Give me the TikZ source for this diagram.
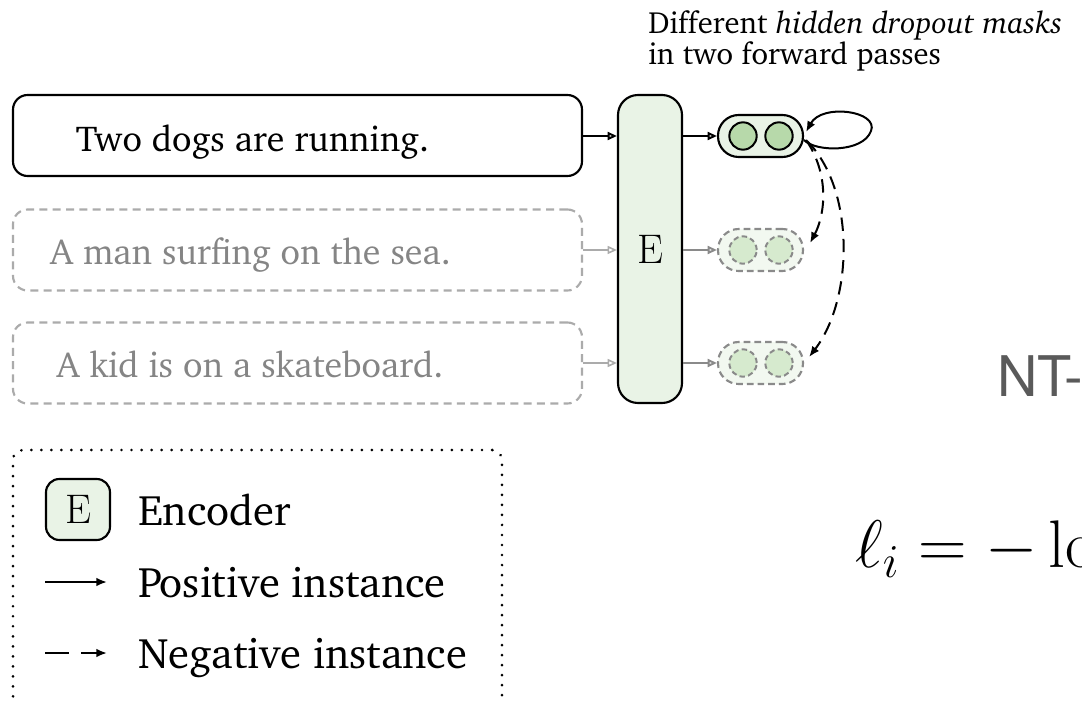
\RequirePackage{fix-cm}
\documentclass[tikz,border=0pt]{standalone}
\usepackage[T1]{fontenc}
\usepackage{charter}
\usetikzlibrary{arrows.meta,calc}
\definecolor{encfill}{HTML}{E9F3E6}
\definecolor{dotfill}{HTML}{B7D9AA}
\definecolor{negfill}{HTML}{F2F8F0}
\definecolor{negdot}{HTML}{D6EACE}
\definecolor{gtext}{HTML}{858585}
\definecolor{gline}{HTML}{ABABAB}
\definecolor{gpill}{HTML}{8A8A8A}
\definecolor{ntgray}{HTML}{5A5A5A}
\tikzset{
  bigtxt/.style={font=\fontsize{27}{32}\selectfont},
  efont/.style={font=\fontsize{31}{36}\selectfont},
  sentbox/.style={draw, line width=1.6pt, rounded corners=11pt, minimum width=426.75pt, minimum height=60.75pt, inner sep=0pt},
  negsent/.style={sentbox, draw=gline, dash pattern=on 6pt off 4pt},
  senttxt/.style={bigtxt, anchor=base, inner sep=0pt},
  negtxt/.style={senttxt, text=gtext},
  encbox/.style={draw, line width=1.6pt, fill=encfill, rounded corners=15pt, minimum width=48pt, minimum height=231pt, inner sep=0pt, efont},
  pill/.style={draw, line width=1.6pt, fill=encfill, rounded corners=15.5pt, minimum width=63.75pt, minimum height=31.5pt, inner sep=0pt},
  negpill/.style={pill, draw=gpill, fill=negfill, dash pattern=on 5pt off 3pt},
  dot/.style={circle, draw, line width=1.5pt, fill=dotfill, minimum size=20.5pt, inner sep=0pt},
  negdotst/.style={dot, draw=gpill, fill=negdot, dash pattern=on 4pt off 2.5pt},
  feed/.style={-{Triangle[open,length=7pt,width=6pt]}, line width=1.5pt},
  negfeed/.style={feed, draw=gline, line width=1.2pt},
  posarr/.style={-{Latex[length=8pt,width=6.5pt]}, line width=1.5pt},
  negarr/.style={posarr, dash pattern=on 10pt off 6pt},
  legtxt/.style={font=\fontsize{32}{36}\selectfont, anchor=base west, inner sep=0pt},
  captxt/.style={font=\fontsize{23}{28}\selectfont, anchor=base west, inner sep=0pt},
}
\begin{document}
\begin{tikzpicture}[x=0.75pt,y=-0.75pt]
\useasboundingbox (0,0) rectangle (1082,702);
\clip (0,0) rectangle (1082,702);
% caption
\node[captxt] (cap1) at (648,34) {Different \textit{hidden dropout masks}};
\node[captxt] (cap2) at (648,65) {in two forward passes};
% sentences
\node[sentbox] (s1) at (297.5,135.5) {};
\node[negsent] (s2) at (297.5,250) {};
\node[negsent] (s3) at (297.5,363) {};
\node[senttxt] (ts1) at (252.5,152) {Two dogs are running.};
\node[negtxt] (ts2) at (250.5,265) {A man surfing on the sea.};
\node[negtxt] (ts3) at (250,378) {A kid is on a skateboard.};
% encoder
\node[encbox] (enc) at (650,249) {$\mathrm{E}$};
% pills
\node[pill] (p1) at (760.5,136) {};
\node[negpill] (p2) at (760.5,250) {};
\node[negpill] (p3) at (760.5,363) {};
\node[dot] (d11) at (743,136) {};
\node[dot] (d12) at (779,136) {};
\node[negdotst] (d21) at (743,250) {};
\node[negdotst] (d22) at (779,250) {};
\node[negdotst] (d31) at (743,363) {};
\node[negdotst] (d32) at (779,363) {};
% feeds
\draw[feed] (s1.east |- p1) -- (enc.west |- p1);
\draw[negfeed] (s2.east |- p2) -- (enc.west |- p2);
\draw[negfeed] (s3.east |- p3) -- (enc.west |- p3);
\draw[feed] (enc.east |- p1) -- (p1.west);
\draw[feed, draw=gpill] (enc.east |- p2) -- (p2.west);
\draw[feed, draw=gpill] (enc.east |- p3) -- (p3.west);
% self loop and negatives
\coordinate (l1) at (804,140);
\coordinate (lr) at (871,131);
\draw[posarr] (l1) .. controls (815,152) and (863,153) .. (lr) .. controls (879,111) and (822,103) .. ($(p1.east)+(2,-4)$);
\draw[negarr] ($(p1.east)+(2,4)$) .. controls (830,175) and (825,215) .. ($(p2.east)+(6,-7)$);
\draw[negarr] ($(p1.east)+(3,5)$) .. controls (856,190) and (853,300) .. ($(p3.east)+(5,-6)$);
% right side
\node[anchor=base west, inner sep=0pt, text=ntgray, font=\fontfamily{phv}\fontsize{42}{46}\selectfont] (nt) at (997,397) {NT-};
\node[anchor=base west, inner sep=0pt, font=\fontsize{50.5}{56}\selectfont] (eq) at (855,567) {$\ell_i = -\log$};
% legend
\node[draw, line width=2.2pt, line cap=round, dash pattern=on 0.01pt off 7.5pt, rounded corners=7.5pt, minimum width=366.75pt, minimum height=192pt] (leg) at (257.5,578) {};
\node[draw, line width=1.6pt, fill=encfill, rounded corners=10pt, minimum width=48pt, minimum height=45.75pt, inner sep=0pt, efont] (legE) at (78,509.5) {$\mathrm{E}$};
\node[legtxt] (t1) at (138,525) {Encoder};
\node[legtxt] (t2) at (138,597) {Positive instance};
\node[legtxt] (t3) at (138,668) {Negative instance};
\coordinate (a1) at (45,582);
\coordinate (a2) at (107,582);
\coordinate (b1) at (45,653);
\coordinate (b2) at (107,653);
\draw[posarr] (a1) -- (a2);
\draw[negarr, dash pattern=on 18pt off 9pt] (b1) -- (b2);
\end{tikzpicture}
\end{document}
